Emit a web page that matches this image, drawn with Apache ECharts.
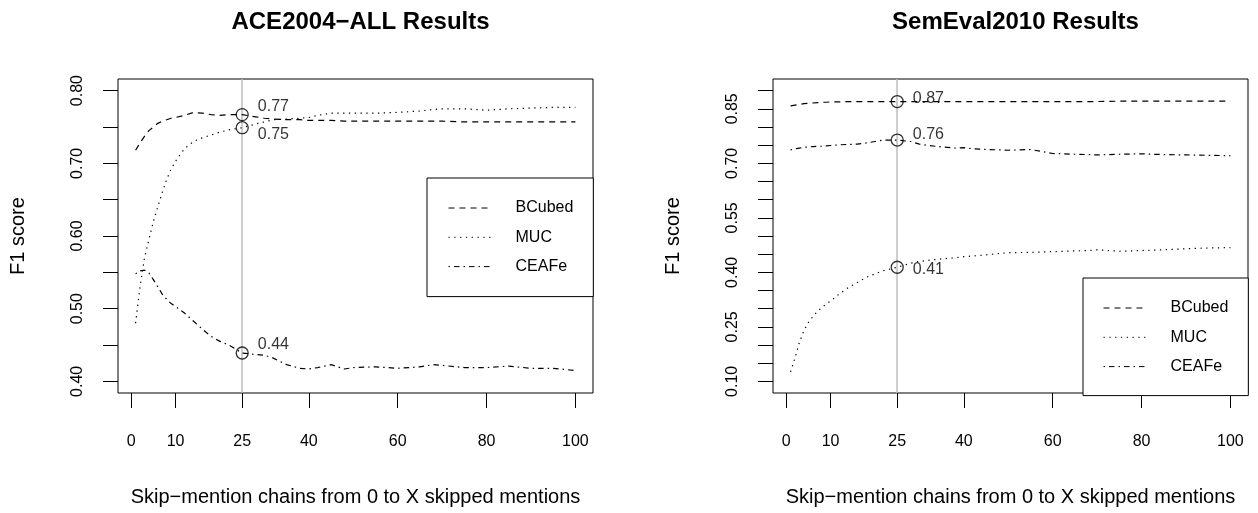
<!DOCTYPE html>
<html>
<head>
<meta charset="utf-8">
<script src="https://cdn.jsdelivr.net/npm/echarts@6/dist/echarts.min.js"></script>
<style>
html,body{margin:0;padding:0;background:#fff;}
#chart{width:1258px;height:513px;}
</style>
</head>
<body>
<div id="chart"></div>
<script>
// ---------- data ----------
const xValues = [1,2,3,4,5,6,7,8,9,10,12,14,16,18,20,22,25,28,30,32,35,38,40,42,45,48,50,55,60,65,68,70,75,80,85,90,95,100];

const aceBCubed = [0.718,0.728,0.737,0.745,0.750,0.755,0.758,0.760,0.762,0.763,0.766,0.770,0.769,0.767,0.766,0.767,0.767,0.764,0.762,0.761,0.760,0.760,0.759,0.759,0.759,0.758,0.758,0.758,0.758,0.758,0.758,0.758,0.757,0.757,0.757,0.757,0.757,0.757];
const aceMUC    = [0.480,0.530,0.570,0.595,0.620,0.640,0.660,0.678,0.692,0.703,0.720,0.730,0.735,0.739,0.743,0.746,0.749,0.754,0.757,0.760,0.761,0.762,0.763,0.766,0.769,0.769,0.769,0.769,0.770,0.772,0.774,0.775,0.775,0.773,0.775,0.776,0.777,0.777];
const aceCEAFe  = [0.548,0.552,0.553,0.549,0.540,0.530,0.520,0.513,0.507,0.503,0.494,0.483,0.472,0.462,0.455,0.450,0.439,0.437,0.436,0.432,0.423,0.418,0.417,0.419,0.423,0.417,0.419,0.420,0.418,0.420,0.423,0.422,0.419,0.419,0.421,0.418,0.418,0.415];

const semBCubed = [0.858,0.860,0.862,0.864,0.865,0.866,0.867,0.868,0.868,0.869,0.869,0.870,0.870,0.870,0.870,0.870,0.870,0.870,0.870,0.870,0.870,0.870,0.870,0.870,0.870,0.870,0.870,0.870,0.870,0.870,0.870,0.870,0.871,0.871,0.871,0.871,0.871,0.871];
const semMUC    = [0.126,0.165,0.208,0.240,0.262,0.278,0.292,0.303,0.313,0.321,0.341,0.358,0.372,0.386,0.396,0.405,0.414,0.425,0.430,0.433,0.437,0.440,0.443,0.445,0.448,0.452,0.454,0.455,0.457,0.459,0.460,0.462,0.458,0.460,0.462,0.465,0.467,0.468];
const semCEAFe  = [0.737,0.740,0.742,0.744,0.745,0.746,0.747,0.747,0.748,0.749,0.751,0.752,0.753,0.756,0.760,0.764,0.764,0.760,0.753,0.749,0.745,0.742,0.743,0.740,0.738,0.737,0.736,0.738,0.727,0.725,0.724,0.723,0.725,0.726,0.724,0.723,0.722,0.721];

const xTicks = [0,10,25,40,60,80,100];
const aceYTicks = [0.40,0.45,0.50,0.55,0.60,0.65,0.70,0.75,0.80];
const aceYLabels = [0.40,0.50,0.60,0.70,0.80];
const semYTicks = [0.10,0.15,0.20,0.25,0.30,0.35,0.40,0.45,0.50,0.55,0.60,0.65,0.70,0.75,0.80,0.85,0.90];
const semYLabels = [0.10,0.25,0.40,0.55,0.70,0.85];
const markX = 25;
const seriesNames = ['BCubed','MUC','CEAFe'];
const titles = ['ACE2004\u2212ALL Results','SemEval2010 Results'];
const xTitle = 'Skip\u2212mention chains from 0 to X skipped mentions';
const yTitle = 'F1 score';

// ---------- styles ----------
const FONT = '"Liberation Sans", Arial, Helvetica, sans-serif';
const dashes = { BCubed: [6,5], MUC: [1.3,4.5], CEAFe: [1.5,4,5.5,4] };

function pairs(vals){ return xValues.map((x,i)=>[x, vals[i]]); }
function valAt(vals, x){ return vals[xValues.indexOf(x)]; }

const panels = [
  { sets: [aceBCubed, aceMUC, aceCEAFe], ymin: 0.384, ymax: 0.816, ticks: aceYTicks, labels: aceYLabels,
    left: 118, offsets: [[0,-8],[0,7],[0,-8]],
    legend: { left: 427, top: 178, padding: [22, 20, 22, 21] } },
  { sets: [semBCubed, semMUC, semCEAFe], ymin: 0.068, ymax: 0.932, ticks: semYTicks, labels: semYLabels,
    left: 773, offsets: [[0,-3],[0,2],[0,-5]],
    legend: { left: 1083, top: 278, padding: [22, 20, 21, 20] } }
];

const option = {
  animation: false,
  backgroundColor: '#fff',
  textStyle: { fontFamily: FONT, color: '#000' },
  title: [], grid: [], xAxis: [], yAxis: [], legend: [], series: []
};

panels.forEach((p, gi) => {
  option.title.push({
    text: titles[gi], left: p.left + 237.5, top: 5, textAlign: 'center',
    textStyle: { fontFamily: FONT, fontSize: 24, fontWeight: 'bold', color: '#000' }
  });
  option.grid.push({ left: p.left, top: 79, width: 475, height: 314, show: true,
    borderColor: '#000', borderWidth: 1, backgroundColor: 'transparent' });
  option.xAxis.push({
    type: 'value', gridIndex: gi, min: -2.96, max: 103.96,
    name: xTitle, nameLocation: 'middle', nameGap: 94,
    nameTextStyle: { fontFamily: FONT, fontSize: 20, color: '#000' },
    axisLine: { show: false, onZero: false },
    axisTick: { show: true, inside: false, length: 15, customValues: xTicks, lineStyle: { color: '#000', width: 1 } },
    axisLabel: { customValues: xTicks, margin: 41, fontFamily: FONT, fontSize: 16, color: '#000' },
    splitLine: { show: false }
  });
  option.yAxis.push({
    type: 'value', gridIndex: gi, min: p.ymin, max: p.ymax,
    name: yTitle, nameLocation: 'middle', nameGap: 90, nameRotate: 90,
    nameTextStyle: { fontFamily: FONT, fontSize: 20, color: '#000' },
    axisLine: { show: false, onZero: false },
    axisTick: { show: true, inside: false, length: 15, customValues: p.ticks, lineStyle: { color: '#000', width: 1 } },
    axisLabel: { customValues: p.labels, rotate: 90, margin: 32, fontFamily: FONT, fontSize: 16, color: '#000',
      formatter: v => v.toFixed(2) },
    splitLine: { show: false }
  });
  option.legend.push({
    data: seriesNames, orient: 'vertical', left: p.legend.left, top: p.legend.top,
    padding: p.legend.padding, itemGap: 13.3, itemWidth: 42, itemHeight: 15,
    borderColor: '#000', borderWidth: 1, backgroundColor: '#fff', borderRadius: 0,
    selectedMode: false,
    itemStyle: { opacity: 0, borderWidth: 0 },
    lineStyle: { width: 1, color: '#000' },
    textStyle: { fontFamily: FONT, fontSize: 16, color: '#000', padding: [0,0,0,20] }
  });
  p.sets.forEach((vals, si) => {
    const s = {
      type: 'line', name: seriesNames[si], xAxisIndex: gi, yAxisIndex: gi,
      data: pairs(vals), symbol: 'none', showSymbol: false, smooth: false,
      lineStyle: { color: '#000', width: 1.2, type: dashes[seriesNames[si]] },
      itemStyle: { color: '#000' }, z: 3
    };
    if (si === 0) {
      s.markLine = { silent: true, symbol: ['none','none'], label: { show: false },
        lineStyle: { color: '#bebebe', width: 1.5, type: 'solid' }, data: [{ xAxis: markX }], z: 1 };
    }
    option.series.push(s);
  });
  p.sets.forEach((vals, si) => {
    option.series.push({
      type: 'scatter', xAxisIndex: gi, yAxisIndex: gi, z: 4,
      data: [[markX, valAt(vals, markX)]],
      symbol: 'circle', symbolSize: 12,
      itemStyle: { color: 'rgba(0,0,0,0)', borderColor: '#000', borderWidth: 1.3 },
      label: { show: true, position: 'right', distance: 9, offset: p.offsets[si],
        formatter: d => d.value[1].toFixed(2), fontFamily: FONT, fontSize: 16, color: '#000' }
    });
  });
});

const chart = echarts.init(document.getElementById('chart'), null, { renderer: 'canvas' });
chart.setOption(option);
</script>
</body>
</html>
